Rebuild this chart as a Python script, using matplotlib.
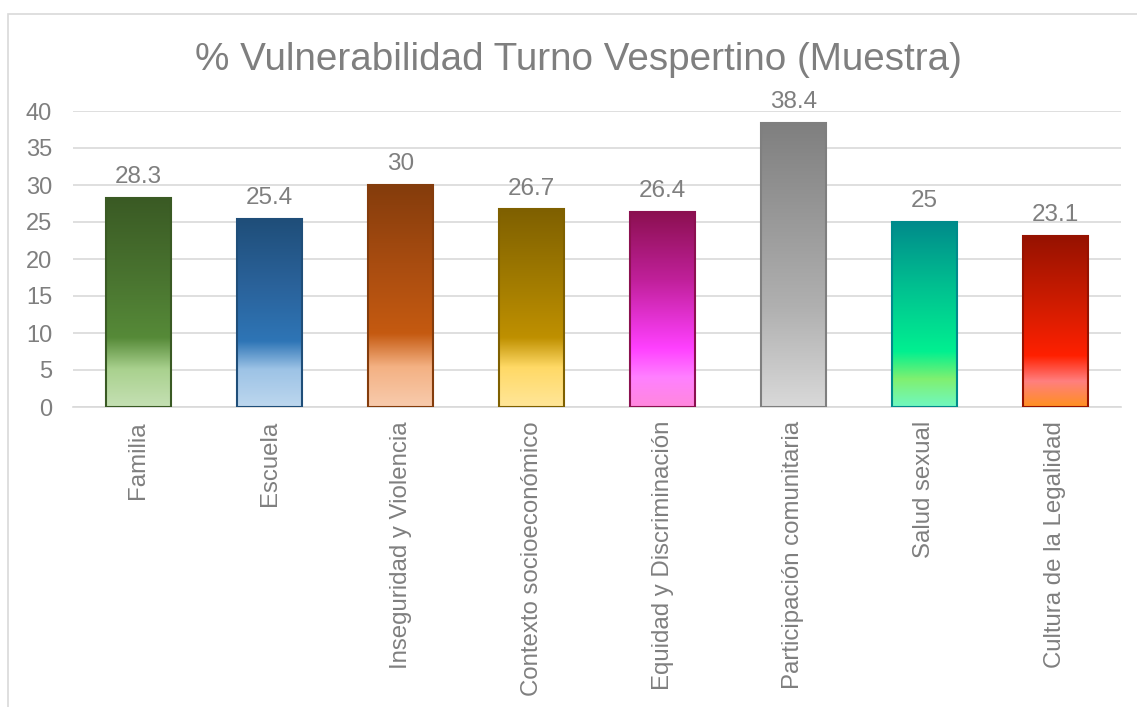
import numpy as np
import matplotlib.pyplot as plt
from matplotlib.colors import LinearSegmentedColormap
from matplotlib.patches import Rectangle

plt.rcParams['font.family'] = ['Liberation Sans', 'DejaVu Sans']

## Data
categories = ["Familia", "Escuela", "Inseguridad y Violencia", "Contexto socioeconómico",
              "Equidad y Discriminación", "Participación comunitaria", "Salud sexual",
              "Cultura de la Legalidad"]
values = [28.3, 25.4, 30, 26.7, 26.4, 38.4, 25, 23.1]
labels = ["28.3", "25.4", "30", "26.7", "26.4", "38.4", "25", "23.1"]

# gradient stops per bar: (fraction from bottom, colour)
gradients = [
    [(0.0, "#c5e0b4"), (0.18, "#a9d18e"), (0.33, "#568a38"), (0.6, "#4a7530"), (1.0, "#3a5a24")],
    [(0.0, "#bdd7ee"), (0.2, "#9dc3e6"), (0.35, "#2e75b6"), (0.65, "#2a629a"), (1.0, "#1f4e79")],
    [(0.0, "#f8cbad"), (0.18, "#f4b183"), (0.33, "#c55a11"), (0.65, "#a84c10"), (1.0, "#843c0c")],
    [(0.0, "#ffe699"), (0.2, "#ffd966"), (0.35, "#bf9000"), (0.65, "#a07a00"), (1.0, "#7f6000")],
    [(0.0, "#ff88dd"), (0.15, "#ff80ff"), (0.3, "#ff40ff"), (0.65, "#c0209a"), (1.0, "#8b1050")],
    [(0.0, "#d9d9d9"), (0.35, "#b0b0b0"), (1.0, "#7f7f7f")],
    [(0.0, "#70f8c0"), (0.15, "#80f070"), (0.3, "#00f090"), (0.65, "#00c090"), (1.0, "#008b8b")],
    [(0.0, "#ff9020"), (0.15, "#ff7f7f"), (0.3, "#ff2000"), (0.6, "#d01c00"), (1.0, "#961200")],
]
edge_colors = ["#3a5a24", "#1f4e79", "#843c0c", "#7f6000", "#8b1050", "#7f7f7f", "#008b8b", "#961200"]

txt = "#7f7f7f"
grid = "#d9d9d9"

fig = plt.figure(figsize=(11.37, 7.07), dpi=100)
fig.patches.append(Rectangle((8 / 1137, -0.01), 1.2, 1 - 14 / 707 + 0.01, transform=fig.transFigure,
                             fill=False, edgecolor="#d9d9d9", lw=1.2))
ax = fig.add_axes([73 / 1137, 1 - 407 / 707, (1121 - 73) / 1137, (407 - 111) / 707])

x = np.arange(len(categories))
w = 0.5
ax.set_xlim(-0.5, len(categories) - 0.5)
ax.set_ylim(0, 40)
ax.set_yticks(range(0, 41, 5))
ax.yaxis.grid(True, color=grid, lw=1.2)
ax.set_axisbelow(True)
for s in ["top", "right", "left"]:
    ax.spines[s].set_visible(False)
ax.spines["bottom"].set_color(grid)
ax.spines["bottom"].set_linewidth(1.2)
ax.tick_params(length=0, labelsize=17, labelcolor=txt)
ax.tick_params(axis="y", pad=15)

bars = ax.bar(x, values, width=w, color="none", edgecolor=edge_colors, lw=1.5, zorder=3)
grad = np.linspace(0, 1, 256).reshape(-1, 1)
for b, stops in zip(bars, gradients):
    cmap = LinearSegmentedColormap.from_list("g", stops)
    x0, y0 = b.get_x(), b.get_y()
    im = ax.imshow(grad, cmap=cmap, origin="lower", aspect="auto",
                   extent=(x0, x0 + b.get_width(), y0, y0 + b.get_height()), zorder=2)
    im.set_clip_path(b)

for xi, v, lab in zip(x, values, labels):
    ax.annotate(lab, (xi, v), xytext=(0, 7), textcoords="offset points",
                ha="center", va="bottom", fontsize=17.5, color=txt)

ax.set_xticks(x)
ax.set_xticklabels(categories, rotation=90, fontsize=17.3, color=txt)
ax.tick_params(axis="x", pad=10)

fig.text(578 / 1137, 1 - 60 / 707, "% Vulnerabilidad Turno Vespertino (Muestra)",
         ha="center", va="center", fontsize=27.8, color=txt)

fig.savefig("out.png", dpi=100, facecolor="white")
